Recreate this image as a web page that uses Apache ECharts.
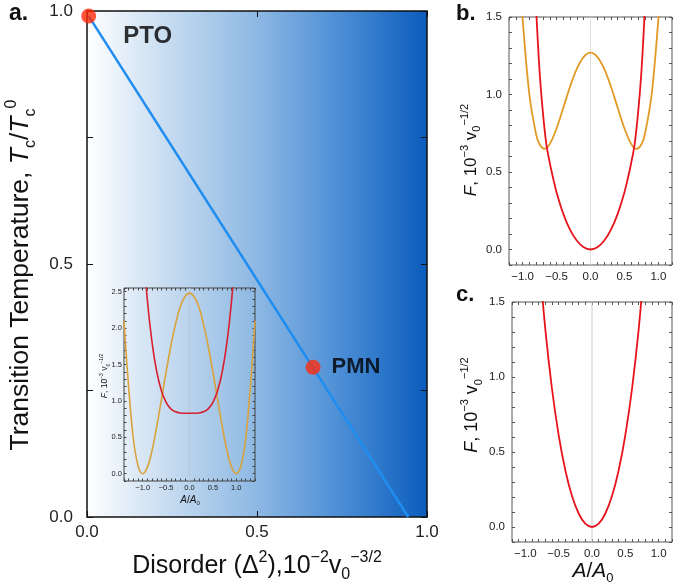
<!DOCTYPE html>
<html><head><meta charset="utf-8">
<script src="https://cdn.jsdelivr.net/npm/echarts@6/dist/echarts.min.js"></script>
<style>html,body{margin:0;padding:0;background:#fff}#c{width:675px;height:585px}</style>
</head><body><div id="c"></div>
<script>
// ---- Panel a: phase line and materials ----
const disorder = [0.005, 0.945];
const tcLine = [0.99, 0.0];
const materialNames = ['PTO', 'PMN'];
const materialDisorder = [0.005, 0.665];
const materialTc = [0.99, 0.296];
const mainXTicks = [0, 0.5, 1.0];
const mainYTicks = [0, 0.5, 1.0];

// ---- Inset of panel a ----
const insetA = [-1.4,-1.3,-1.2,-1.1,-1.0,-0.9,-0.8,-0.7,-0.6,-0.5,-0.4,-0.3,-0.2,-0.1,0,0.1,0.2,0.3,0.4,0.5,0.6,0.7,0.8,0.9,1.0,1.1,1.2,1.3,1.4];
const insetOrange = [2.1,1.18,0.48,0.11,0.0,0.09,0.32,0.65,1.02,1.40,1.75,2.05,2.29,2.43,2.48,2.43,2.29,2.05,1.75,1.40,1.02,0.65,0.32,0.09,0.0,0.11,0.48,1.18,2.1];
const insetRedA = [-1.0,-0.9,-0.8,-0.7,-0.6,-0.5,-0.4,-0.3,-0.2,-0.1,0,0.1,0.2,0.3,0.4,0.5,0.6,0.7,0.8,0.9,1.0];
const insetRed = [3.2,2.38,1.80,1.40,1.14,0.98,0.89,0.85,0.834,0.83,0.83,0.83,0.834,0.85,0.89,0.98,1.14,1.40,1.80,2.38,3.2];
const insetXTicks = [-1, -0.5, 0, 0.5, 1];
const insetYTicks = [0, 0.5, 1, 1.5, 2, 2.5];

// ---- Panel b ----
const bOrangeA = [-1.03,-1.0,-0.9,-0.8,-0.75,-0.68,-0.6,-0.5,-0.4,-0.3,-0.2,-0.1,0,0.1,0.2,0.3,0.4,0.5,0.6,0.68,0.75,0.8,0.9,1.0,1.03];
const bOrange = [1.69,1.49,1.00,0.742,0.679,0.65,0.68,0.781,0.915,1.052,1.167,1.243,1.27,1.243,1.167,1.052,0.915,0.781,0.68,0.65,0.679,0.742,1.00,1.49,1.69];
const bRedA = [-0.8,-0.75,-0.7,-0.65,-0.6,-0.55,-0.5,-0.4,-0.3,-0.2,-0.1,0,0.1,0.2,0.3,0.4,0.5,0.55,0.6,0.65,0.7,0.75,0.8];
const bRed = [1.55,1.15,0.88,0.68,0.56,0.46,0.37,0.23,0.126,0.056,0.014,0,0.014,0.056,0.126,0.23,0.37,0.46,0.56,0.68,0.88,1.15,1.55];

// ---- Panel c ----
const cRedA = [-0.8,-0.7,-0.6,-0.5,-0.4,-0.3,-0.2,-0.1,0,0.1,0.2,0.3,0.4,0.5,0.6,0.7,0.8];
const cRed = [1.83,1.318,0.92,0.613,0.378,0.206,0.09,0.022,0,0.022,0.09,0.206,0.378,0.613,0.92,1.318,1.83];
const panelXTicks = [-1, -0.5, 0, 0.5, 1];
const panelYTicks = [0, 0.5, 1, 1.5];

const pairs = (xs, ys) => xs.map((x, i) => [x, ys[i]]);
const FONT = '"Liberation Sans", Arial, Helvetica, sans-serif';
const RED = '#e8141c', ORANGE = '#e29a25', BLUE = '#1f8df0';

function fmt(v) { return (v < 0 ? '\u2212' : '') + Math.abs(v).toFixed(1); }
function labeler(ticks) {
  return function (v) {
    for (const t of ticks) if (Math.abs(v - t) < 1e-6) return fmt(t);
    return '';
  };
}
function makeAxes(grid, isX, min, max, interval, ticks, fs, margin, tickLen, tickColor) {
  const base = {
    type: 'value', gridIndex: grid, min: min, max: max, interval: interval,
    splitLine: { show: false }, axisLine: { show: false, onZero: false },
    axisTick: { show: true, inside: true, length: tickLen, lineStyle: { color: tickColor, width: 1 } }
  };
  const main = Object.assign({}, base, {
    position: isX ? 'bottom' : 'left',
    axisLabel: { show: true, formatter: labeler(ticks), fontSize: fs, color: '#222', fontFamily: FONT, margin: margin }
  });
  const other = Object.assign({}, base, {
    position: isX ? 'top' : 'right',
    axisLabel: { show: false }
  });
  return [main, other];
}

const xAxes = [].concat(
  makeAxes(0, true, 0, 1, 0.5, mainXTicks, 17, 7, 6, '#111'),
  makeAxes(1, true, -1.4, 1.4, 0.1, insetXTicks, 7.5, 3, 2.5, '#444'),
  makeAxes(2, true, -1.2, 1.2, 0.1, panelXTicks, 11.5, 6, 3, '#555'),
  makeAxes(3, true, -1.2, 1.2, 0.1, panelXTicks, 11.5, 6, 3, '#555')
);
const yAxes = [].concat(
  makeAxes(0, false, 0, 1, 0.25, mainYTicks, 17, 14, 6, '#111'),
  makeAxes(1, false, -0.1, 2.55, 0.1, insetYTicks, 7.5, 2, 2.5, '#444'),
  makeAxes(2, false, -0.1, 1.5, 0.1, panelYTicks, 11.5, 7, 3, '#555'),
  makeAxes(3, false, -0.1, 1.5, 0.1, panelYTicks, 11.5, 7, 3, '#555')
);

const zeroLine = (xi, yi, y0, y1, color) => ({
  type: 'line', xAxisIndex: xi, yAxisIndex: yi, data: [[0, y0], [0, y1]],
  symbol: 'none', lineStyle: { color: color, width: 1 }, silent: true, z: 1
});
const curve = (xi, yi, xs, ys, color, w) => ({
  type: 'line', xAxisIndex: xi, yAxisIndex: yi, data: pairs(xs, ys),
  symbol: 'none', smooth: 0.35, lineStyle: { color: color, width: w }, clip: true, z: 3
});

function fTitleRich(fs) {
  const s = Math.round(fs * 0.62);
  return {
    b: { fontSize: fs, lineHeight: fs * 1.35, fontFamily: FONT, fill: '#111' },
    it: { fontSize: fs, lineHeight: fs * 1.35, fontStyle: 'italic', fontFamily: FONT, fill: '#111' },
    sp: { fontSize: s, lineHeight: s, verticalAlign: 'top', fontFamily: FONT, fill: '#111' },
    sb: { fontSize: s, lineHeight: s, verticalAlign: 'bottom', fontFamily: FONT, fill: '#111' }
  };
}
const fTitleText = '{it|F}{b|, 10}{sp|\u22123}{b| v}{sb|0}{sp|\u22121/2}';

const option = {
  animation: false,
  backgroundColor: '#fff',
  grid: [
    { left: 87, top: 11, width: 340, height: 506, show: true, borderColor: '#111', borderWidth: 1.5,
      backgroundColor: { type: 'linear', x: 0, y: 0, x2: 1, y2: 0, colorStops: [
        { offset: 0, color: '#ffffff' }, { offset: 0.25, color: '#c4daf0' },
        { offset: 0.5, color: '#8db8e3' }, { offset: 0.75, color: '#4a8dd5' }, { offset: 1, color: '#0a5cbc' }] } },
    { left: 124, top: 288, width: 131, height: 193, show: true, borderColor: '#444', borderWidth: 1, backgroundColor: 'transparent' },
    { left: 509, top: 17, width: 165, height: 248, show: true, borderColor: '#555', borderWidth: 1, backgroundColor: '#fff' },
    { left: 512, top: 302, width: 162, height: 240, show: true, borderColor: '#555', borderWidth: 1, backgroundColor: '#fff' }
  ],
  xAxis: xAxes,
  yAxis: yAxes,
  series: [
    { type: 'line', xAxisIndex: 0, yAxisIndex: 0, data: pairs(disorder, tcLine), symbol: 'none',
      lineStyle: { color: BLUE, width: 2.5 }, z: 4 },
    { type: 'scatter', xAxisIndex: 0, yAxisIndex: 0, clip: false, z: 5,
      data: materialNames.map((n, i) => ({ name: n, value: [materialDisorder[i], materialTc[i]] })),
      symbolSize: 15, itemStyle: { color: '#ff2a0a' },
      label: { show: true, formatter: '{b}', fontFamily: FONT, fontWeight: 'bold', color: '#000' } },
    zeroLine(2, 2, -0.1, 2.55, '#b8c8d8'),
    curve(2, 2, insetA, insetOrange, '#d9a23a', 1.6),
    curve(2, 2, insetRedA, insetRed, '#d8202e', 1.6),
    zeroLine(4, 4, -0.1, 1.5, '#dddddd'),
    curve(4, 4, bOrangeA, bOrange, ORANGE, 1.8),
    curve(4, 4, bRedA, bRed, RED, 1.8),
    zeroLine(6, 6, -0.1, 1.5, '#cccccc'),
    curve(6, 6, cRedA, cRed, RED, 1.8)
  ],
  graphic: [
    { type: 'text', left: 9, top: 2, style: { text: 'a.', font: 'bold 23px ' + FONT, fill: '#111' } },
    { type: 'text', left: 456, top: 3, style: { text: 'b.', font: 'bold 22px ' + FONT, fill: '#111' } },
    { type: 'text', left: 456, top: 284, style: { text: 'c.', font: 'bold 22px ' + FONT, fill: '#111' } },
    { type: 'text', x: 257, y: 566, style: { text: '{b|Disorder (\u0394}{sp|2}{b|),10}{sp|\u22122}{b|v}{sb|0}{sp|\u22123/2}',
        align: 'center', verticalAlign: 'middle', rich: fTitleRich(25) } },
    { type: 'text', x: 21, y: 275, rotation: Math.PI / 2, style: {
        text: '{b|Transition Temperature, }{it|T}{sb|c}{b|/}{it|T}{sb|c}{sp|0}',
        align: 'center', verticalAlign: 'middle', rich: fTitleRich(26.5) } },
    { type: 'text', x: 105, y: 376, rotation: Math.PI / 2, style: {
        text: fTitleText, align: 'center', verticalAlign: 'middle', rich: fTitleRich(8.5) } },
    { type: 'text', x: 190, y: 500, style: { text: '{it|A}{b|/}{it|A}{sb|0}', align: 'center', verticalAlign: 'middle', rich: fTitleRich(10) } },
    { type: 'text', x: 471, y: 150, rotation: Math.PI / 2, style: {
        text: fTitleText, align: 'center', verticalAlign: 'middle', rich: fTitleRich(17) } },
    { type: 'text', x: 472, y: 405, rotation: Math.PI / 2, style: {
        text: fTitleText, align: 'center', verticalAlign: 'middle', rich: fTitleRich(18) } },
    { type: 'text', x: 593, y: 571, style: { text: '{it|A}{b|/}{it|A}{sb|0}', align: 'center', verticalAlign: 'middle', rich: fTitleRich(21) } }
  ]
};
// per-material label placement
option.series[1].data[0].label = { position: 'right', offset: [22, 20], fontSize: 24 };
option.series[1].data[1].label = { position: 'right', offset: [6, 0], fontSize: 22 };

const chart = echarts.init(document.getElementById('c'), null, { renderer: 'canvas' });
chart.setOption(option);
</script></body></html>
